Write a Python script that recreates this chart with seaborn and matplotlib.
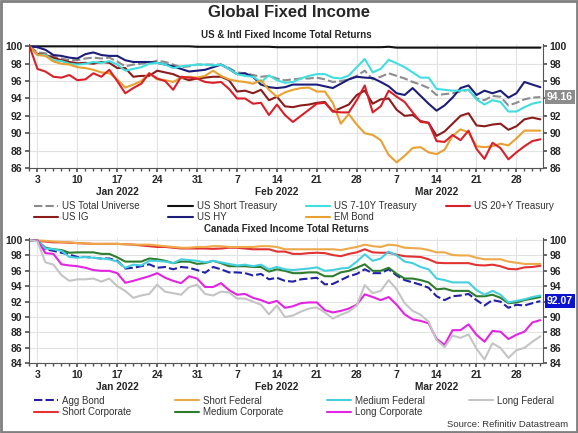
import numpy as np
import pandas as pd
import matplotlib
matplotlib.use("Agg")
import matplotlib.pyplot as plt
import matplotlib.transforms as mtransforms
from matplotlib.patches import Rectangle
from matplotlib.lines import Line2D
import seaborn as sns

# business days, Dec 31 2021 .. Mar 31 2022 (index 0..64)
day_idx = np.arange(65)
tick_pos = [1, 6, 11, 16, 21, 26, 31, 36, 41, 46, 51, 56, 61]
tick_labels = ['3', '10', '17', '24', '31', '7', '14', '21', '28', '7', '14', '21', '28']
month_pos = [11, 31, 51]
month_labels = ['Jan 2022', 'Feb 2022', 'Mar 2022']

# US & Intl total return indices (rebased to 100)
us_total_universe = [100, 99.3, 99.2, 98.8, 98.6, 98.4, 98.4, 98.6, 98.7, 98.6, 98.7, 98.25, 97.7, 97.9, 98.0, 98.1,
                     98.35, 98.2, 97.9, 97.6, 97.7, 97.9, 97.9, 97.9, 97.9, 97.5, 97.0, 96.9, 96.7, 96.5, 96.6, 96.3,
                     96.1, 96.2, 96.3, 96.3, 96.4, 96.2, 95.9, 96.0, 96.2, 96.6, 97.2, 96.2, 96.5, 96.9, 96.6, 96.3,
                     95.9, 95.6, 95.2, 94.4, 94.5, 94.6, 94.8, 95.0, 94.0, 93.8, 94.3, 94.2, 93.2, 93.5, 93.9, 94.1, 94.16]
us_short_treasury = [100.0] * 21 + [99.95] * 10 + [99.9] * 14 + [99.95] + [99.85] * 19
us_7_10y = [100, 99.0, 99.0, 98.4, 98.3, 98.0, 97.9, 98.0, 98.2, 98.1, 98.3, 97.9, 97.2, 97.4, 97.6, 98.0,
            98.1, 97.9, 97.5, 97.7, 97.8, 97.9, 97.9, 97.8, 97.9, 97.4, 96.8, 96.6, 96.5, 95.9, 96.65, 96.1,
            95.8, 95.9, 96.3, 96.6, 96.8, 96.8, 96.4, 96.3, 96.65, 97.6, 98.55, 97.0, 97.4, 98.45, 98.05, 97.6,
            97.0, 96.4, 96.4, 95.1, 95.0, 94.9, 94.9, 95.0, 93.9, 93.3, 93.8, 93.6, 92.5, 92.5, 93.0, 93.4, 93.6]
us_20y = [100, 97.4, 97.1, 96.5, 96.4, 96.7, 96.1, 96.2, 96.9, 96.5, 97.3, 96.0, 94.6, 95.2, 95.7, 96.9,
          96.3, 96.0, 95.0, 96.5, 96.4, 96.3, 95.9, 95.8, 95.9, 95.1, 94.0, 94.0, 93.4, 93.5, 92.1, 93.3,
          92.1, 91.3, 92.0, 92.7, 93.4, 93.5, 92.5, 92.4, 92.4, 93.8, 95.5, 92.4, 93.1, 94.9, 94.2, 93.6,
          92.4, 91.3, 91.2, 89.1, 89.0, 89.8, 89.2, 90.3, 88.2, 87.05, 88.9, 88.3, 87.0, 87.8, 88.5, 89.1, 89.3]
us_ig = [100, 99.1, 99.0, 98.7, 98.4, 98.2, 98.05, 98.1, 98.0, 98.2, 98.1, 97.5, 97.5, 96.5, 96.6, 96.6,
         97.2, 97.0, 96.8, 96.4, 96.1, 96.3, 96.4, 96.5, 96.5, 96.1, 94.8, 94.9, 94.6, 95.0, 93.8, 94.2,
         93.1, 93.0, 93.2, 93.3, 93.5, 93.6, 92.5, 92.9, 93.3, 94.4, 94.9, 93.4, 93.9, 94.0, 92.7, 92.0,
         92.1, 91.4, 91.2, 89.7, 90.2, 91.1, 92.0, 92.3, 90.9, 90.8, 91.0, 91.1, 90.4, 90.8, 91.6, 91.8, 91.6]
us_hy = [100, 99.9, 99.6, 99.0, 98.9, 98.7, 98.6, 99.1, 99.3, 99.0, 98.9, 98.9, 98.4, 98.2, 98.2, 98.2,
         98.1, 97.9, 97.7, 97.4, 97.1, 97.2, 97.3, 97.6, 97.9, 97.4, 96.8, 96.9, 96.5, 95.6, 95.3, 95.2,
         95.3, 95.6, 95.6, 95.6, 95.6, 95.4, 95.2, 95.7, 96.2, 96.5, 96.4, 96.35, 95.9, 95.4, 94.6, 94.4,
         95.2, 94.3, 93.4, 92.6, 93.2, 94.1, 95.2, 95.5, 94.4, 94.9, 94.6, 94.9, 94.1, 94.6, 95.9, 95.6, 95.3]
em_bond = [100, 99.0, 98.9, 98.25, 98.0, 97.9, 97.6, 97.5, 97.3, 97.0, 96.9, 96.2, 95.25, 95.6, 96.0, 96.9,
           96.2, 96.1, 95.9, 96.4, 96.5, 96.4, 96.6, 97.2, 96.6, 96.2, 96.0, 95.9, 95.7, 96.1, 95.0, 94.2,
           94.7, 95.0, 95.2, 95.25, 94.8, 94.8, 93.5, 91.1, 92.2, 91.0, 90.0, 89.8, 89.2, 87.5, 86.65, 87.4,
           88.3, 88.4, 87.8, 87.6, 88.1, 89.7, 90.45, 90.1, 88.5, 88.4, 88.5, 88.8, 88.6, 89.4, 90.3, 90.3, 90.3]

# Canada total return indices
agg_bond = [100, 99.9, 98.8, 98.6, 98.35, 98.1, 97.8, 97.8, 97.7, 97.6, 97.6, 97.3, 96.3, 96.4, 96.6, 96.85,
            96.4, 96.5, 96.2, 96.5, 96.4, 96.1, 95.75, 96.5, 96.2, 95.8, 95.8, 95.7, 95.4, 95.6, 94.9, 95.1,
            94.7, 94.6, 94.9, 95.0, 95.1, 94.25, 94.3, 94.8, 95.3, 95.6, 96.2, 95.7, 95.7, 96.2, 95.4, 94.8,
            94.5, 94.2, 93.8, 92.7, 92.2, 92.7, 92.8, 93.0, 92.2, 91.5, 92.2, 92.0, 91.2, 91.6, 91.5, 91.8, 92.07]
short_federal = [100, 99.95, 99.9, 99.8, 99.75, 99.7, 99.6, 99.55, 99.5, 99.5, 99.5, 99.5, 99.45, 99.4, 99.4, 99.4,
                 99.3, 99.2, 99.1, 99.0, 99.0, 99.1, 99.1, 99.2, 99.2, 99.1, 99.1, 99.1, 99.1, 99.2, 99.2, 99.1,
                 98.8, 98.8, 98.8, 98.8, 98.8, 98.8, 98.8, 98.7, 98.9, 99.1, 99.4, 99.2, 99.1, 99.4, 99.3, 99.0,
                 98.95, 98.9, 98.7, 98.4, 98.4, 98.05, 98.0, 98.0, 97.7, 97.5, 97.5, 97.5, 97.2, 97.05, 96.9, 96.9, 96.9]
medium_federal = [100, 99.9, 98.9, 98.8, 98.6, 97.8, 97.7, 97.8, 97.7, 97.6, 97.5, 97.2, 96.4, 96.8, 96.7, 97.3,
                  97.3, 97.2, 97.0, 97.5, 97.4, 97.3, 97.1, 97.3, 97.1, 96.9, 96.7, 96.8, 96.6, 96.8, 96.2, 96.5,
                  96.2, 96.1, 96.2, 96.3, 96.45, 96.0, 96.1, 96.3, 96.4, 97.2, 98.15, 97.3, 97.6, 98.5, 98.0, 97.2,
                  97.0, 96.5, 96.2, 95.0, 94.8, 94.5, 94.5, 94.5, 93.5, 92.9, 93.4, 92.9, 91.9, 92.1, 92.3, 92.6, 92.8]
long_federal = [100, 99.8, 97.1, 96.8, 95.45, 94.7, 94.9, 94.9, 95.0, 94.6, 95.0, 94.0, 93.4, 92.5, 92.8, 93.0,
                94.2, 93.3, 93.1, 92.9, 93.9, 94.2, 93.0, 92.8, 93.3, 93.2, 92.4, 92.4, 92.0, 91.6, 90.35, 91.5,
                90.0, 90.2, 90.7, 91.1, 91.25, 90.6, 89.8, 90.3, 90.7, 91.5, 94.15, 93.1, 93.4, 94.8, 93.6, 91.8,
                90.8, 90.3, 89.4, 87.0, 86.1, 87.6, 87.3, 87.75, 85.9, 84.5, 86.6, 86.0, 84.7, 85.7, 86.0, 86.8, 87.5]
short_corporate = [100, 99.9, 99.8, 99.7, 99.7, 99.65, 99.6, 99.55, 99.5, 99.5, 99.5, 99.5, 99.45, 99.4, 99.3, 99.2,
                   99.1, 99.1, 99.0, 98.9, 98.9, 98.9, 98.9, 98.85, 98.9, 99.0, 99.0, 98.9, 98.8, 98.8, 98.8, 98.5,
                   98.5, 98.2, 98.2, 98.3, 98.35, 98.3, 98.05, 97.9, 98.2, 98.4, 98.8, 98.4, 98.35, 98.35, 98.1, 97.9,
                   97.85, 97.8, 97.5, 97.05, 97.0, 97.0, 97.0, 97.0, 96.75, 96.7, 96.8, 96.6, 96.25, 96.2, 96.45, 96.5, 96.65]
medium_corporate = [100, 99.9, 99.0, 98.8, 98.7, 98.35, 98.4, 98.4, 98.4, 98.2, 98.2, 97.75, 97.2, 97.2, 97.2, 97.6,
                    97.5, 97.3, 97.0, 97.2, 97.2, 96.9, 97.0, 97.3, 97.0, 96.6, 96.6, 96.6, 96.5, 96.5, 95.9, 96.2,
                    96.0, 95.7, 95.7, 95.8, 95.8, 95.3, 95.3, 95.8, 96.0, 96.4, 96.85, 96.0, 96.0, 96.4, 95.6, 95.0,
                    95.0, 94.8, 94.5, 93.6, 93.7, 93.4, 93.4, 93.4, 92.7, 92.7, 92.9, 92.5, 91.8, 91.9, 92.2, 92.4, 92.6]
long_corporate = [100, 99.9, 98.3, 98.2, 96.85, 96.7, 96.6, 96.4, 96.1, 96.0, 96.0, 95.7, 94.45, 94.7, 95.0, 95.3,
                  95.7, 95.1, 94.7, 94.4, 95.3, 95.0, 93.9, 93.9, 94.4, 93.5, 92.9, 93.0, 92.5, 92.2, 91.8, 92.1,
                  91.2, 91.4, 91.8, 91.9, 91.9, 90.9, 90.6, 90.8, 91.1, 91.6, 92.95, 92.6, 92.2, 92.6, 91.6, 90.35,
                  89.7, 89.5, 89.2, 87.15, 86.4, 88.3, 88.3, 89.05, 87.7, 86.8, 88.2, 88.1, 87.15, 87.7, 88.1, 89.3, 89.6]

# (name, values, colour, dashed) - ordered column by column for the 4-col legend
us_series = [
    ("US Total Universe", us_total_universe, "#8c8c8c", True),
    ("US IG", us_ig, "#8b1c1c", False),
    ("US Short Treasury", us_short_treasury, "#111111", False),
    ("US HY", us_hy, "#1c1c7a", False),
    ("US 7-10Y Treasury", us_7_10y, "#40dede", False),
    ("EM Bond", em_bond, "#e8a030", False),
    ("US 20+Y Treasury", us_20y, "#d8202a", False),
]
ca_series = [
    ("Agg Bond", agg_bond, "#2020a8", True),
    ("Short Corporate", short_corporate, "#e23232", False),
    ("Short Federal", short_federal, "#eda84a", False),
    ("Medium Corporate", medium_corporate, "#2e7d2e", False),
    ("Medium Federal", medium_federal, "#44d0e0", False),
    ("Long Corporate", long_corporate, "#e324e3", False),
    ("Long Federal", long_federal, "#c4c4c4", False),
]

sns.set_theme(style="white")
plt.rcParams['font.family'] = ['Liberation Sans', 'DejaVu Sans']

fig = plt.figure(figsize=(5.78, 4.33), dpi=100)
fig.patches.append(Rectangle((0.002, 0.002), 0.996, 0.996, transform=fig.transFigure,
                             fill=False, edgecolor="#7f7f7f", linewidth=2))

fig.text(0.5, 0.972, "Global Fixed Income", ha="center", va="center", fontsize=12, fontweight="bold")


def draw_panel(ax, series, ylim, yticks, subtitle, last_label, last_color, hidden_tick, leg_top):
    for name, vals, col, dashed in series:
        sns.lineplot(x=day_idx, y=vals, ax=ax, color=col, linewidth=1.5,
                     linestyle=(0, (4, 1.5)) if dashed else "-")
    ax.set_xlim(0, 64.3)
    ax.set_ylim(*ylim)
    ax.set_yticks(yticks)
    ax.set_xticks(tick_pos)
    ax.set_xticklabels(tick_labels)
    ax.set_xticks(day_idx, minor=True)
    ax.grid(True, which="major", color="#e2e2e2", linewidth=0.8)
    ax.set_axisbelow(True)
    ax.spines["top"].set_visible(False)
    for s in ["left", "right", "bottom"]:
        ax.spines[s].set_color("#555555")
        ax.spines[s].set_linewidth(0.8)
    ax.tick_params(axis="both", which="both", direction="out", color="#555555",
                   labelsize=7.5, left=True, right=True, bottom=True, labelright=True, pad=2)
    ax.tick_params(axis="x", which="major", length=3)
    ax.tick_params(axis="x", which="minor", length=2)
    ax.tick_params(axis="y", which="major", length=3)
    for lab in ax.get_xticklabels() + ax.get_yticklabels():
        lab.set_fontweight("bold")
    for val, t in zip(yticks, ax.yaxis.get_major_ticks()):
        t.label2.set_fontweight("bold")
        # the end-value box sits on top of this right-hand label
        if val == hidden_tick:
            t.label2.set_visible(False)
    ax.set_xlabel("")
    ax.set_ylabel("")
    trans = mtransforms.blended_transform_factory(ax.transData, ax.transAxes)
    for p, m in zip(month_pos, month_labels):
        ax.text(p, -0.19, m, transform=trans, ha="center", va="center", fontsize=7.3, fontweight="bold")
    ax.text(0.5, 1.07, subtitle, transform=ax.transAxes, ha="center", va="center",
            fontsize=7, fontweight="bold")
    # end-of-series value box on the right axis
    ytrans = mtransforms.blended_transform_factory(ax.transAxes, ax.transData)
    ax.text(1.008, last_label, f"{last_label:.2f}", transform=ytrans, ha="left", va="center",
            fontsize=7.5, fontweight="bold", color="white",
            bbox=dict(boxstyle="square,pad=0.2", facecolor=last_color, edgecolor="none"))
    handles = [Line2D([], [], color=c, linewidth=1.5, linestyle=(0, (4, 1.5)) if d else "-")
               for _, _, c, d in series]
    labels = [n for n, _, _, _ in series]
    fig.legend(handles, labels, ncol=4, loc="upper left",
               bbox_to_anchor=(0.058, leg_top - 0.05, 0.9, 0.05),
               mode="expand", frameon=False, fontsize=7, handlelength=2.5, handletextpad=0.4,
               labelspacing=0.15, borderaxespad=0, borderpad=0, labelcolor="#333333")


ax1 = fig.add_axes([0.051, 0.612, 0.888, 0.287])
draw_panel(ax1, us_series, (86, 100.3), np.arange(86, 101, 2),
           "US & Intl Fixed Income Total Returns", us_total_universe[-1], "#8c8c8c", 94, 0.536)

ax2 = fig.add_axes([0.051, 0.161, 0.888, 0.290])
draw_panel(ax2, ca_series, (84, 100.3), np.arange(84, 101, 2),
           "Canada Fixed Income Total Returns", agg_bond[-1], "#0a14d0", 92, 0.086)

fig.text(0.983, 0.01, "Source: Refinitiv Datastream", ha="right", va="bottom", fontsize=6.8, color="#333333")

fig.savefig("out.png", dpi=100)
